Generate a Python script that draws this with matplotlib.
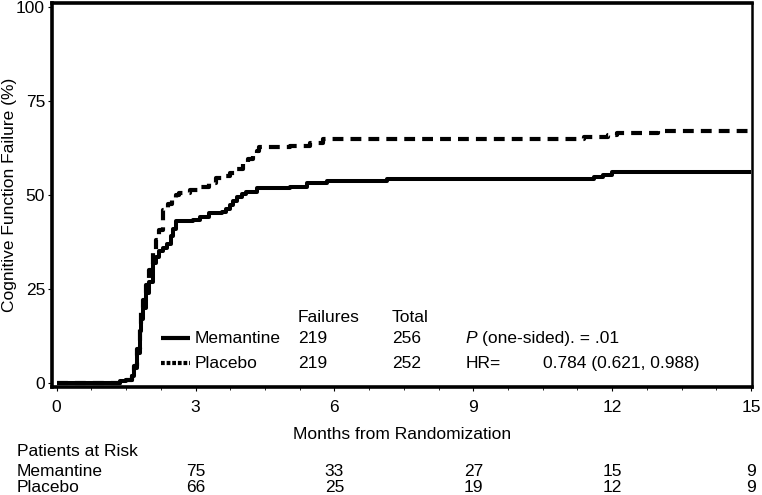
import matplotlib
matplotlib.use("Agg")
import matplotlib.pyplot as plt

plt.rcParams['font.family'] = ['Liberation Sans', 'DejaVu Sans']

# Kaplan-Meier style cumulative failure (%)
mem_t = [0, 1.36, 1.50, 1.62, 1.68, 1.74, 1.79, 1.83, 1.86, 1.93, 2.00, 2.08, 2.15, 2.22, 2.30, 2.39, 2.47, 2.52, 2.58,
         2.94, 3.09, 3.30, 3.58, 3.66, 3.74, 3.82, 3.89, 4.00, 4.10, 4.32, 5.03, 5.40, 5.83, 7.13, 11.6, 11.8, 12.0, 15.0]
mem_p = [0, 0.5, 0.8, 2.0, 4.0, 8.0, 14.0, 17.0, 20.0, 24.0, 27.0, 32.0, 33.5, 35.0, 36.0, 37.0, 39.0, 41.0, 43.0,
         43.3, 44.1, 45.2, 45.5, 46.3, 47.3, 48.5, 49.5, 50.2, 50.8, 51.9, 52.1, 53.2, 53.8, 54.2, 54.7, 55.4, 56.2, 56.2]

pla_t = [0, 1.36, 1.50, 1.62, 1.68, 1.74, 1.79, 1.83, 1.86, 1.93, 2.00, 2.08, 2.15, 2.22, 2.29, 2.40, 2.50, 2.58,
         2.65, 2.87, 3.10, 3.30, 3.45, 3.60, 3.74, 3.90, 4.02, 4.14, 4.24, 4.32, 4.38, 5.03, 5.47, 5.75, 11.0, 11.4,
         11.9, 12.1, 13.0, 15.0]
pla_p = [0, 0.5, 0.8, 2.0, 4.5, 9.0, 15.0, 19.0, 22.0, 26.0, 30.0, 35.0, 38.0, 40.7, 46.0, 47.5, 49.0, 50.0,
         50.5, 51.3, 52.0, 53.2, 54.5, 55.0, 55.8, 57.0, 58.5, 59.5, 60.6, 61.8, 62.8, 63.0, 63.8, 64.8, 65.0, 65.5,
         66.0, 66.6, 67.1, 67.1]

x_ticks = [0, 3, 6, 9, 12, 15]
y_ticks = [0, 25, 50, 75, 100]

groups = ["Memantine", "Placebo"]
failures = [219, 219]
totals = [256, 252]
p_text = "(one-sided). = .01"
hr_text = "0.784 (0.621, 0.988)"

risk_times = [3, 6, 9, 12, 15]
risk_mem = [75, 33, 27, 15, 9]
risk_pla = [66, 25, 19, 12, 9]

FS = 12.5
W, H = 762, 495
fig = plt.figure(figsize=(W / 100, H / 100), dpi=100)
ax = fig.add_axes([52 / W, 1 - 387 / H, (752 - 52) / W, (387 - 3) / H])

ax.plot(mem_t, mem_p, drawstyle='steps-post', color='black', lw=2.9, solid_capstyle='butt')
ax.plot(pla_t, pla_p, drawstyle='steps-post', color='black', lw=3.0, dashes=(2.6, 1.7), dash_capstyle='butt')

ax.set_xlim(-0.1, 15.02)
ax.set_ylim(-1.0, 101.0)
ax.set_xticks(x_ticks)
ax.set_xticks([i * 0.75 for i in range(21)], minor=True)
ax.set_yticks(y_ticks)
ax.tick_params(axis='both', which='major', labelsize=FS, direction='out', length=3, width=0.8, colors='black')
ax.tick_params(axis='x', which='minor', direction='out', length=2, width=0.6)
ax.tick_params(axis='x', pad=6)
ax.tick_params(axis='y', pad=2)
for s in ['left', 'top', 'bottom']:
    ax.spines[s].set_linewidth(2.6)
ax.spines['right'].set_linewidth(1.8)

ax.set_xlabel("Months from Randomization", fontsize=FS, labelpad=9)
ax.set_ylabel("Cognitive Function Failure (%)", fontsize=FS, va='center')
ax.yaxis.set_label_coords(-(52 - 10) / 700, 0.5)

# in-plot legend table
def px2data(px, py):
    return (px - 57.3) / 46.23, (383 - py) / 3.76

xs, ys = px2data(298, 317)
ax.text(xs, ys, "Failures", fontsize=FS, va='center', ha='left')
xt, _ = px2data(392, 317)
ax.text(xt, ys, "Total", fontsize=FS, va='center', ha='left')
row_y = [338, 363]
ls_styles = [dict(lw=3.0), dict(lw=3.0, dashes=(0.9, 0.45))]
for i, g in enumerate(groups):
    x0, yy = px2data(162, row_y[i])
    x1, _ = px2data(190, row_y[i])
    ax.plot([x0, x1], [yy, yy], color='black', solid_capstyle='butt', **ls_styles[i])
    xg, _ = px2data(195, row_y[i])
    ax.text(xg, yy, g, fontsize=FS, va='center', ha='left')
    ax.text(xs, yy, str(failures[i]), fontsize=FS, va='center', ha='left')
    ax.text(xt, yy, str(totals[i]), fontsize=FS, va='center', ha='left')

xp, y1 = px2data(466, row_y[0])
ax.text(xp, y1, "P", fontsize=FS, va='center', ha='left', style='italic')
xp2, _ = px2data(482, row_y[0])
ax.text(xp2, y1, p_text, fontsize=FS, va='center', ha='left')
_, y2 = px2data(466, row_y[1])
ax.text(xp, y2, "HR=", fontsize=FS, va='center', ha='left')
xh, _ = px2data(543, row_y[1])
ax.text(xh, y2, hr_text, fontsize=FS, va='center', ha='left')

# patients at risk table
fig.text(17 / W, 1 - 452 / H, "Patients at Risk", fontsize=FS, va='center', ha='left')
fig.text(17 / W, 1 - 471 / H, "Memantine", fontsize=FS, va='center', ha='left')
fig.text(17 / W, 1 - 487 / H, "Placebo", fontsize=FS, va='center', ha='left')
for t, a, b in zip(risk_times, risk_mem, risk_pla):
    xf = ax.transData.transform((t, 0))[0] / W
    fig.text(xf, 1 - 471 / H, str(a), fontsize=FS, va='center', ha='center')
    fig.text(xf, 1 - 487 / H, str(b), fontsize=FS, va='center', ha='center')

fig.savefig("out.png", dpi=100)
